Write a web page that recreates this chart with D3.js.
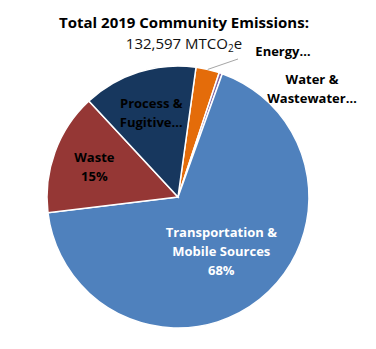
<!DOCTYPE html>
<html>
<head>
<meta charset="utf-8">
<script src="https://cdn.jsdelivr.net/npm/d3@7"></script>
<style>
  body { margin: 0; background: #fff; }
  svg text { font-family: "Open Sans", "Liberation Sans", sans-serif; }
</style>
</head>
<body>
<div id="chart"></div>
<script>
// data (MTCO2e), in draw order starting near 12 o'clock
var sectors = ["Energy", "Water & Wastewater", "Transportation & Mobile Sources", "Waste", "Process & Fugitive"];
var emissions = [3840, 527, 89640, 19890, 18700];
var labelLines = [["Energy…"], ["Water &", "Wastewater…"], ["Transportation &", "Mobile Sources", "68%"], ["Waste", "15%"], ["Process &", "Fugitive…"]];
var colors = ["#E46C0A", "#8064A2", "#4F81BD", "#953735", "#17375E"];
var titleText = "Total 2019 Community Emissions:";
var totalText = "132,597 MTCO";

var width = 376, height = 349;
var cx = 178, cy = 197, radius = 131;

var svg = d3.select("#chart").append("svg")
    .attr("width", width)
    .attr("height", height);

// title
svg.append("text")
    .attr("x", 184).attr("y", 28)
    .attr("text-anchor", "middle")
    .style("font-size", "15px").style("font-weight", "bold")
    .text(titleText);

var sub = svg.append("text")
    .attr("x", 184).attr("y", 49)
    .attr("text-anchor", "middle")
    .style("font-size", "15px")
    .attr("fill", "#111");
sub.append("tspan").text(totalText);
sub.append("tspan").attr("dy", 3).style("font-size", "10px").text("2");
sub.append("tspan").attr("dy", -3).text("e");

var pie = d3.pie()
    .sort(null)
    .value(function(d){ return d; })
    .startAngle(7.9 * Math.PI / 180)
    .endAngle(7.9 * Math.PI / 180 + 2 * Math.PI);

var arcs = pie(emissions);

var arc = d3.arc().innerRadius(0).outerRadius(radius);

var g = svg.append("g").attr("transform", "translate(" + cx + "," + cy + ")");

g.selectAll("path.slice")
    .data(arcs)
    .enter().append("path")
    .attr("class", "slice")
    .attr("d", arc)
    .attr("fill", function(d, i){ return colors[i]; })
    .attr("stroke", "#fff")
    .attr("stroke-width", 1.5);

// labels inside the big slices
var labelArc = d3.arc().innerRadius(0).outerRadius(radius * 1.36);
var transArc = d3.arc().innerRadius(0).outerRadius(radius * 1.06);
var lineH = 19;

[2, 3, 4].forEach(function(i){
    var c = (i == 2 ? transArc : labelArc).centroid(arcs[i]);
    var lines = labelLines[i];
    var t = g.append("text")
        .attr("text-anchor", "middle")
        .style("font-size", "13px").style("font-weight", "bold")
        .attr("fill", i == 2 ? "#fff" : "#000");
    lines.forEach(function(l, k){
        t.append("tspan")
            .attr("x", c[0])
            .attr("y", c[1] + (k - (lines.length - 1) / 2) * lineH + 5)
            .text(l);
    });
});

// outside labels: Energy with leader line, Water & Wastewater
var edgeArc = d3.arc().innerRadius(radius).outerRadius(radius);
var p0 = edgeArc.centroid(arcs[0]);
g.append("polyline")
    .attr("points", [[p0[0], p0[1]], [238 - cx, 59 - cy]].map(function(p){ return p.join(","); }).join(" "))
    .attr("fill", "none")
    .attr("stroke", "#A6A6A6")
    .attr("stroke-width", 1);

svg.append("text")
    .attr("x", 283).attr("y", 56)
    .attr("text-anchor", "middle")
    .style("font-size", "13px").style("font-weight", "bold")
    .text(labelLines[0][0]);

var w = svg.append("text")
    .attr("text-anchor", "middle")
    .style("font-size", "13px").style("font-weight", "bold");
labelLines[1].forEach(function(l, k){
    w.append("tspan").attr("x", 312).attr("y", 84 + k * 19).text(l);
});
</script>
</body>
</html>
